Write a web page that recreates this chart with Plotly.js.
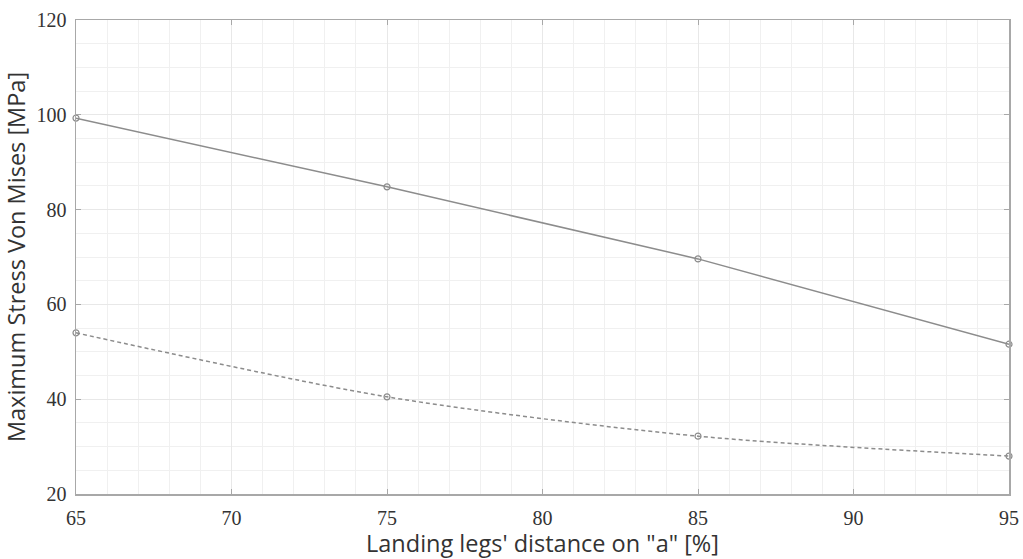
<!DOCTYPE html>
<html><head><meta charset="utf-8">
<script src="https://cdn.plot.ly/plotly-3.0.1.min.js"></script>
<style>body{margin:0;background:#fff}#c{width:1023px;height:559px}</style>
</head><body><div id="c"></div>
<script>
const distance = [65, 75, 85, 95];
const stressSolid = [99.3, 84.8, 69.6, 51.6];
const stressDashed = [54.0, 40.5, 32.2, 28.0];
const xTicks = [65, 70, 75, 80, 85, 90, 95];
const yTicks = [20, 40, 60, 80, 100, 120];

const lineCol = '#8c8c8c';
const traces = [
  {x: distance, y: stressSolid, mode: 'lines+markers', line: {color: lineCol, width: 1.5},
   marker: {symbol: 'circle-open', size: 6, color: lineCol, line: {width: 1.2}}, cliponaxis: false},
  {x: distance, y: stressDashed, mode: 'lines+markers', line: {color: lineCol, width: 1.5, dash: '4px,3px', shape: 'spline', smoothing: 0.8},
   marker: {symbol: 'circle-open', size: 6, color: lineCol, line: {width: 1.2}}, cliponaxis: false}
];
const axCommon = {
  showline: true, linecolor: '#a8a8a8', linewidth: 1.5, mirror: 'ticks',
  ticks: 'inside', ticklen: 5, tickcolor: '#a8a8a8',
  showgrid: true, gridcolor: '#e8e8e8', gridwidth: 1, zeroline: false,
  tickfont: {family: 'Liberation Serif, Times New Roman, serif', size: 20, color: '#333'}
};
const titleFont = {family: 'Open Sans, sans-serif', size: 23.5, color: '#333'};
const layout = {
  width: 1023, height: 559, showlegend: false,
  paper_bgcolor: '#fff', plot_bgcolor: '#fff',
  margin: {l: 76, r: 14, t: 20, b: 65},
  xaxis: Object.assign({}, axCommon, {range: [65, 95], tickvals: xTicks, ticklabelstandoff: 5,
    minor: {dtick: 1, showgrid: true, gridcolor: '#f0f0f0', gridwidth: 1},
    title: {text: 'Landing legs\' distance on "a" [%]', standoff: 0, font: titleFont}}),
  yaxis: Object.assign({}, axCommon, {range: [20, 120], tickvals: yTicks, ticklabelstandoff: 4,
    minor: {dtick: 5, showgrid: true, gridcolor: '#f0f0f0', gridwidth: 1},
    title: {text: 'Maximum Stress Von Mises [MPa]', standoff: 4, font: titleFont}})
};
Plotly.newPlot('c', traces, layout, {displayModeBar: false, staticPlot: true});
</script></body></html>
